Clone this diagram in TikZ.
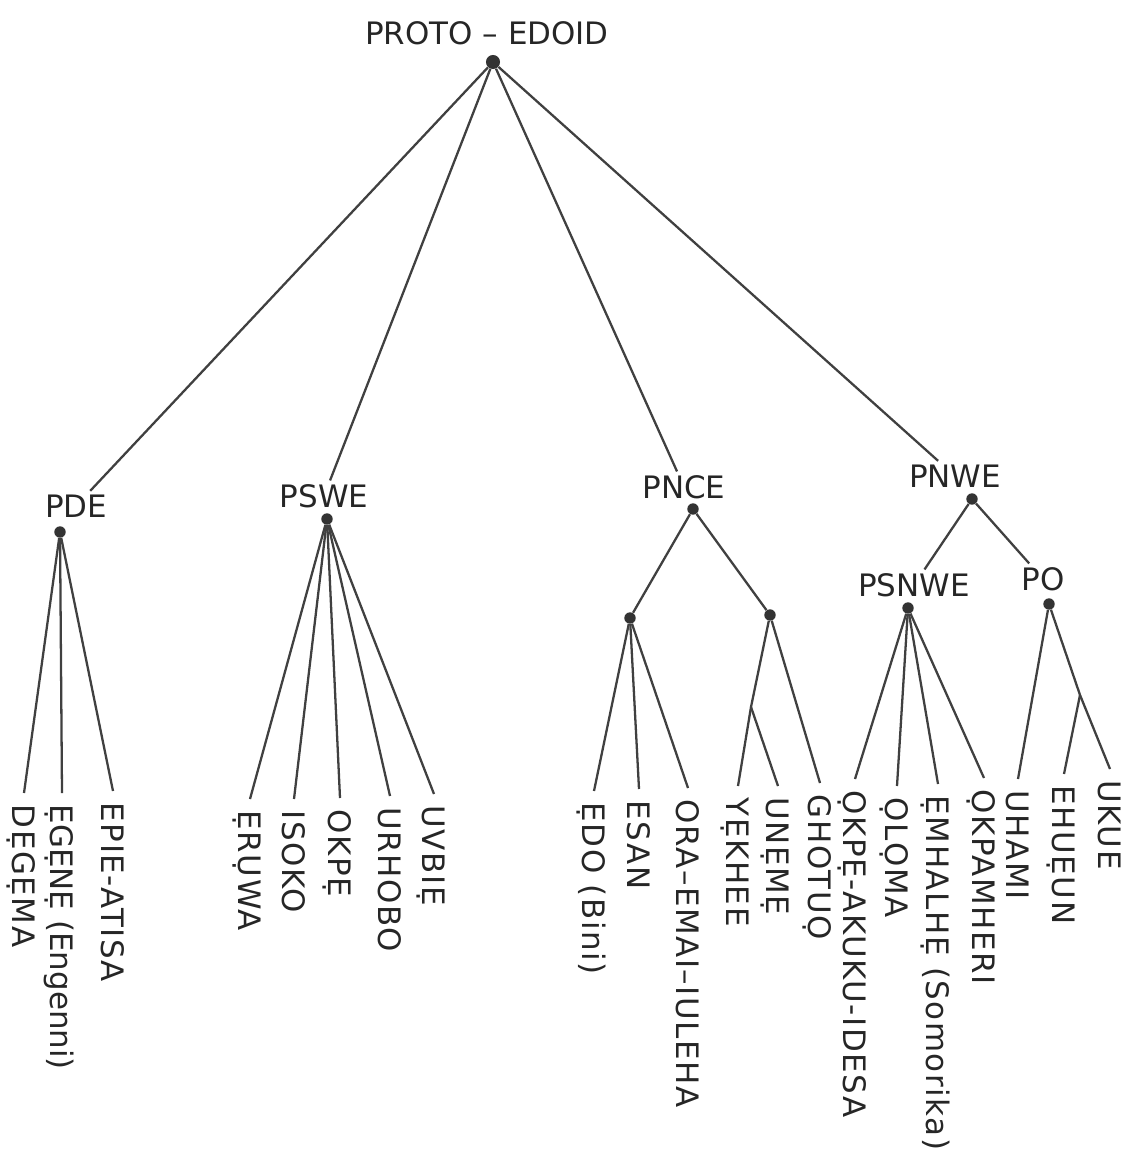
\documentclass[tikz,border=0pt]{standalone}
\usepackage{fontspec}
\setmainfont{DejaVu Sans}
\newfontfamily\leaffont[LetterSpace=5]{DejaVu Sans}

\begin{document}
\begin{tikzpicture}[x=0.02cm,y=-0.02cm]

        \tikzset{
            branch/.style={line width=1.3pt, black!75},
            point/.style={circle, fill=black!80, inner sep=0pt, minimum size=6.5pt},
            group/.style={inner sep=2pt, text=black!85, font=\fontsize{17.6}{21}\selectfont},
            leaf/.style={rotate=-90, anchor=west, inner xsep=6.5pt, inner ysep=0pt,
                text height=12.8pt, text depth=0pt, text=black!85,
                font=\leaffont\fontsize{17.6}{21}\selectfont}
        }

        \useasboundingbox (0,0) rectangle (1130,1163);

        % top
        \node[group] (proto) at (487,33) {PROTO – EDOID};
        \node[point, minimum size=8pt] (protoP) at (493,62) {};

        % subgroups
        \node[group] (pde) at (76,506) {PDE};
        \node[point] (pdeP) at (60,532) {};
        \node[group] (pswe) at (324,496) {PSWE};
        \node[point] (psweP) at (327,519) {};
        \node[group] (pnce) at (684,487) {PNCE};
        \node[point] (pnceP) at (693,509) {};
        \node[group] (pnwe) at (955,476) {PNWE};
        \node[point] (pnweP) at (972,499) {};
        \node[group] (psnwe) at (914,585) {PSNWE};
        \node[point] (psnweP) at (908,608) {};
        \node[group] (po) at (1043,579) {PO};
        \node[point] (poP) at (1049,604) {};
        \node[point] (nceL) at (630,618) {};
        \node[point] (nceR) at (770,615) {};
        \coordinate (yu) at (751,707);
        \coordinate (eu) at (1080,695);

        % languages
        \node[leaf] (degema) at (24,793) {DẸGẸMA};
        \node[leaf, font=\fontsize{17.6}{21}\selectfont] (egene) at (62,793) {ẸGẸNẸ (Engenni)};
        \node[leaf] (epie) at (113,791) {EPIE-ATISA};
        \node[leaf] (eruwa) at (250,799) {ẸRỤWA};
        \node[leaf] (isoko) at (294,799) {ISOKO};
        \node[leaf] (okpe) at (340,798) {OKPẸ};
        \node[leaf] (urhobo) at (390,796) {URHOBO};
        \node[leaf] (uvbie) at (434,794) {UVBIẸ};
        \node[leaf] (edo) at (594,791) {ẸDO (Bini)};
        \node[leaf] (esan) at (639,789) {ESAN};
        \node[leaf] (ora) at (688,788) {ORA–EMAI–IULEHA};
        \node[leaf] (yekhee) at (738,786) {YẸKHEE};
        \node[leaf] (uneme) at (778,786) {UNẸMẸ};
        \node[leaf] (ghotuo) at (820,783) {GHOTUỌ};
        \node[leaf] (akuku) at (855,779) {ỌKPẸ-AKUKU-IDESA};
        \node[leaf] (oloma) at (897,786) {ỌLỌMA};
        \node[leaf] (emhalhe) at (938,784) {ẸMHALHẸ (Somorika)};
        \node[leaf] (okpamheri) at (984,778) {ỌKPAMHERI};
        \node[leaf] (uhami) at (1018,779) {UHAMI};
        \node[leaf] (ehueun) at (1064,774) {EHUẸUN};
        \node[leaf] (ukue) at (1110,769) {UKUE};

        \foreach \g in {pde,pswe,pnce,pnwe}
            \draw[branch] (protoP) -- (\g);
        \draw[branch] (pnweP) -- (psnwe);
        \draw[branch] (pnweP) -- (po);
        \draw[branch] (pnceP) -- (nceL);
        \draw[branch] (pnceP) -- (nceR);

        \foreach \l in {degema,egene,epie}
            \draw[branch] (pdeP) -- (\l.west);
        \foreach \l in {eruwa,isoko,okpe,urhobo,uvbie}
            \draw[branch] (psweP) -- (\l.west);
        \foreach \l in {edo,esan,ora}
            \draw[branch] (nceL) -- (\l.west);
        \draw[branch] (nceR) -- (yu) -- (yekhee.west);
        \draw[branch] (yu) -- (uneme.west);
        \draw[branch] (nceR) -- (ghotuo.west);
        \foreach \l in {akuku,oloma,emhalhe,okpamheri}
            \draw[branch] (psnweP) -- (\l.west);
        \draw[branch] (poP) -- (uhami.west);
        \draw[branch] (poP) -- (eu) -- (ukue.west);
        \draw[branch] (eu) -- (ehueun.west);

    \end{tikzpicture}
\end{document}
